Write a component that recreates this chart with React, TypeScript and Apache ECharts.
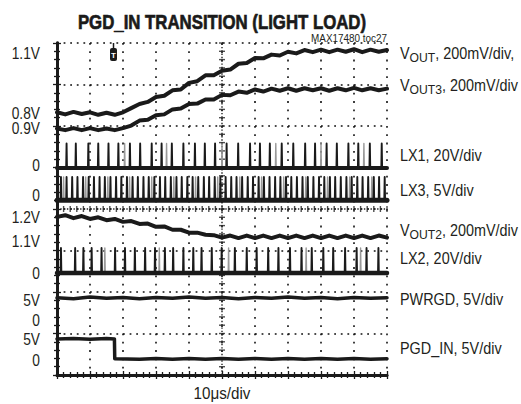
import React, { useEffect, useRef } from 'react';
import * as echarts from 'echarts';

const FONT = '"Liberation Sans", Arial, Helvetica, sans-serif';
const INK = '#1a1a1a';
const TXT = '#231f20';

// time axis in divisions (10 µs/div), vertical in screen divisions (0 = bottom)
const vout: number[][] = [[0,6.33],[0.25,6.28],[0.5,6.34],[0.75,6.29],[1.0,6.33],[1.25,6.27],[1.5,6.32],[1.75,6.27],[2.0,6.33],[2.25,6.43],[2.5,6.53],[2.75,6.58],[3.0,6.70],[3.25,6.73],[3.5,6.86],[3.75,6.88],[4.0,7.04],[4.25,7.08],[4.5,7.22],[4.75,7.22],[5.0,7.33],[5.25,7.36],[5.5,7.50],[5.75,7.52],[6.0,7.64],[6.25,7.63],[6.5,7.72],[6.75,7.70],[7.0,7.79],[7.25,7.75],[7.5,7.83],[7.75,7.78],[8.0,7.84],[8.25,7.78],[8.5,7.84],[8.75,7.79],[9.0,7.85],[9.25,7.78],[9.5,7.84],[9.75,7.79],[10,7.83]];
const vout3: number[][] = [[0,5.94],[0.25,5.90],[0.5,5.95],[0.75,5.90],[1.0,5.95],[1.25,5.90],[1.5,5.94],[1.75,5.90],[2.0,5.95],[2.25,6.01],[2.5,6.13],[2.75,6.15],[3.0,6.26],[3.25,6.28],[3.5,6.40],[3.75,6.42],[4.0,6.53],[4.25,6.54],[4.5,6.64],[4.75,6.64],[5.0,6.75],[5.25,6.74],[5.5,6.83],[5.75,6.80],[6.0,6.88],[6.25,6.83],[6.5,6.90],[6.75,6.85],[7.0,6.91],[7.25,6.85],[7.5,6.91],[7.75,6.86],[8.0,6.91],[8.25,6.85],[8.5,6.91],[8.75,6.86],[9.0,6.92],[9.25,6.86],[9.5,6.91],[9.75,6.86],[10,6.90]];
const vout2: number[][] = [[0,3.81],[0.25,3.85],[0.5,3.78],[0.75,3.83],[1.0,3.76],[1.25,3.80],[1.5,3.73],[1.75,3.76],[2.0,3.69],[2.25,3.71],[2.5,3.64],[2.75,3.65],[3.0,3.57],[3.25,3.58],[3.5,3.50],[3.75,3.50],[4.0,3.43],[4.25,3.43],[4.5,3.38],[4.75,3.37],[5.0,3.31],[5.25,3.36],[5.5,3.30],[5.75,3.36],[6.0,3.30],[6.25,3.36],[6.5,3.30],[6.75,3.36],[7.0,3.30],[7.25,3.36],[7.5,3.30],[7.75,3.36],[8.0,3.30],[8.25,3.36],[8.5,3.30],[8.75,3.36],[9.0,3.30],[9.25,3.36],[9.5,3.30],[9.75,3.36],[10,3.31]];
const pwrgd: number[][] = [[0,1.86],[0.5,1.84],[1.0,1.88],[1.5,1.85],[2.0,1.87],[2.5,1.84],[3.0,1.87],[3.5,1.85],[4.0,1.88],[4.5,1.85],[5.0,1.87],[5.5,1.84],[6.0,1.87],[6.5,1.85],[7.0,1.88],[7.5,1.85],[8.0,1.87],[8.5,1.84],[9.0,1.87],[9.5,1.85],[10,1.86]];
const pgdIn: number[][] = [[0,0.87],[0.5,0.88],[1.0,0.86],[1.5,0.88],[1.74,0.87],[1.75,0.39],[2.5,0.38],[3.0,0.40],[3.5,0.38],[4.0,0.40],[4.5,0.38],[5.0,0.40],[5.5,0.38],[6.0,0.40],[6.5,0.38],[7.0,0.40],[7.5,0.38],[8.0,0.40],[8.5,0.38],[9.0,0.40],[9.5,0.38],[10,0.39]];

// switching spike times (div) and levels
const lx1Spikes = [0.29,0.57,0.95,1.25,1.56,1.86,2.21,2.52,2.87,3.17,3.48,3.83,4.18,4.48,4.79,5.14,5.49,5.85,6.15,6.45,6.81,7.16,7.52,7.82,8.17,8.48,8.83,9.13,9.48,9.84];
const lx1Gray = [2.05,3.32,5.0,6.63,8.0,9.3];
const lx1Level = { base: 4.99, top: 5.58 };
const lx3Spikes = [0.12,0.29,0.46,0.62,0.79,0.96,1.12,1.29,1.45,1.62,1.79,1.95,2.12,2.29,2.45,2.62,2.78,2.95,3.12,3.28,3.45,3.62,3.78,3.95,4.11,4.28,4.45,4.61,4.78,4.95,5.11,5.28,5.44,5.61,5.78,5.94,6.11,6.27,6.44,6.61,6.77,6.94,7.10,7.27,7.44,7.60,7.77,7.94,8.10,8.27,8.43,8.60,8.77,8.93,9.10,9.26,9.43,9.60,9.76,9.93];
const lx3Gray = [0.2,0.87,1.54,2.2,2.87,3.54,4.2,4.87,5.54,6.2,6.87,7.54,8.2,8.87,9.54];
const lx3Level = { base: 4.21, top: 4.77 };
const lx2Spikes = [0.12,0.55,0.8,1.05,1.35,1.76,2.06,2.36,2.67,2.97,3.27,3.52,3.83,4.13,4.38,4.69,4.99,5.39,5.75,6.05,6.40,6.71,7.06,7.41,7.72,8.07,8.37,8.73,9.08,9.38,9.74];
const lx2Gray = [1.45,3.1,5.2,7.55,9.2];
const lx2Level = { base: 2.46, top: 3.06 };

const leftLabels = ['1.1V','0.8V','0.9V','0','0','1.2V','1.1V','0','5V','0','5V','0'];
const leftLabelLevels = [7.76,6.31,5.94,5.06,4.34,3.81,3.23,2.46,1.81,1.33,0.87,0.36];
const rightLabels = ['{a|V}{s|OUT}{a|, 200mV/div,}','{a|V}{s|OUT3}{a|, 200mV/div}','{a|LX1, 20V/div}','{a|LX3, 5V/div}','{a|V}{s|OUT2}{a|, 200mV/div}','{a|LX2, 20V/div}','{a|PWRGD, 5V/div}','{a|PGD_IN, 5V/div}'];
const rightLabelLevels = [7.76,6.99,5.30,4.46,3.49,2.82,1.83,0.65];

const TITLE = 'PGD_IN TRANSITION (LIGHT LOAD)';
const NOTE = 'MAX17480 toc27';
const XNAME = '10\u03bcs/div';

const G = { left: 57, top: 43, width: 330, height: 332 };
const yPx = (lvl: number) => G.top + (8 - lvl) * G.height / 8;

function spikeLine(times: number[], base: number, top: number) {
  const d: number[][] = [];
  times.forEach((t) => { d.push([t - 0.012, base], [t, top], [t + 0.012, base]); });
  return d;
}
function flat(level: number) { return [[0, level], [10, level]]; }

function buildOption() {
  const hTicks: number[][] = [];
  for (let i = 0; i <= 50; i++) hTicks.push([i * 0.2, 4]);
  const vTicks: number[][] = [];
  for (let i = 0; i <= 40; i++) vTicks.push([5, i * 0.2]);

  const axisCommon = () => ({
    type: 'value', min: 0, interval: 1,
    axisLine: { show: true, lineStyle: { color: INK, width: 2.8 } },
    axisTick: { show: true, inside: true, length: 4, lineStyle: { color: INK, width: 1.3 } },
    minorTick: { show: true, splitNumber: 5, length: 3, lineStyle: { color: INK, width: 1.3 } },
    axisLabel: { show: false },
    splitLine: { show: false },
  });

  const lineS = (data: any, width: number, color = INK, z = 5) => ({
    type: 'line', data, showSymbol: false, symbol: 'none', silent: true, z,
    lineStyle: { color, width, join: 'round', cap: 'round' },
  });

  const txt = (text: string, x: number, y: number, size: number, align: string, scaleX: number, extra: any = {}) => ({
    type: 'text', x, y, scaleX, silent: true,
    style: { text, fontSize: size, fontFamily: FONT, fill: TXT, align, textAlign: align, verticalAlign: 'middle', textVerticalAlign: 'middle', ...extra },
  });

  const graphics: any[] = [
    txt(TITLE, 222, 22, 21, 'center', 0.8, { fontWeight: 'bold', fill: INK, stroke: INK, lineWidth: 0.7 }),
    txt(NOTE, 387, 38, 11, 'right', 0.9),
    txt(XNAME, 222, 393, 16, 'center', 0.95),
    { type: 'line', shape: { x1: 113.5, y1: 43, x2: 113.5, y2: 50 }, style: { stroke: INK, lineWidth: 1.5 } },
    { type: 'rect', shape: { x: 110, y: 48, width: 7, height: 13, r: 2 }, style: { fill: INK } },
    txt('T', 113.5, 55, 8, 'center', 1, { fontWeight: 'bold', fill: '#fff' }),
  ];
  leftLabels.forEach((s, i) => graphics.push(txt(s, 40, yPx(leftLabelLevels[i]), 16, 'right', 0.86)));
  rightLabels.forEach((s, i) => graphics.push(txt(s, 400, yPx(rightLabelLevels[i]), 16, 'left', 0.9, {
    rich: {
      a: { fontSize: 16, lineHeight: 22, fontFamily: FONT, fill: TXT },
      s: { fontSize: 13.5, lineHeight: 13.5, verticalAlign: 'bottom', fontFamily: FONT, fill: TXT },
    },
  })));

  return {
    animation: false,
    grid: { ...G, containLabel: false },
    xAxis: [
      { ...axisCommon(), max: 10, position: 'bottom', splitLine: { show: true, lineStyle: { color: '#111', width: 1.6, type: [1.8, 6.5] } } },
      { ...axisCommon(), max: 10, position: 'top' },
    ],
    yAxis: [
      { ...axisCommon(), max: 8, position: 'left', splitLine: { show: true, lineStyle: { color: '#111', width: 1.6, type: [1.8, 4.8] } } },
      { ...axisCommon(), max: 8, position: 'right' },
    ],
    series: [
      { ...lineS([[0, 4], [10, 4]], 1.3, '#222', 2), lineStyle: { color: '#222', width: 1.4, type: [1.4, 1.9] } },
      { ...lineS([[5, 0], [5, 8]], 1.3, '#222', 2), lineStyle: { color: '#222', width: 1.4, type: [1.4, 1.9] } },
      { type: 'scatter', data: hTicks, symbol: 'rect', symbolSize: [1.4, 6], itemStyle: { color: '#222' }, silent: true, z: 2 },
      { type: 'scatter', data: vTicks, symbol: 'rect', symbolSize: [6, 1.4], itemStyle: { color: '#222' }, silent: true, z: 2 },

      lineS(vout, 4),
      lineS(vout3, 4),
      lineS(spikeLine(lx1Gray, lx1Level.base, lx1Level.top), 1.4, '#999', 3),
      lineS(spikeLine(lx1Spikes, lx1Level.base, lx1Level.top), 1.9),
      lineS(flat(lx1Level.base), 4),
      lineS(spikeLine(lx3Gray, lx3Level.base, lx3Level.top), 1.4, '#999', 3),
      lineS(spikeLine(lx3Spikes, lx3Level.base, lx3Level.top), 1.9),
      lineS(flat(lx3Level.base), 5),
      lineS(vout2, 4),
      lineS(spikeLine(lx2Gray, lx2Level.base, lx2Level.top), 1.4, '#999', 3),
      lineS(spikeLine(lx2Spikes, lx2Level.base, lx2Level.top), 1.9),
      lineS(flat(lx2Level.base), 4.5),
      lineS(pwrgd, 3.5),
      lineS(pgdIn, 3.5),
    ],
    graphic: graphics,
  };
}

export default function App() {
  const ref = useRef<HTMLDivElement>(null);
  useEffect(() => {
    const chart = echarts.init(ref.current!, null, { renderer: 'svg' });
    chart.setOption(buildOption() as any);
    return () => chart.dispose();
  }, []);
  return <div ref={ref} style={{ position: 'absolute', left: 0, top: 0, width: 521, height: 404, background: '#fff' }} />;
}
